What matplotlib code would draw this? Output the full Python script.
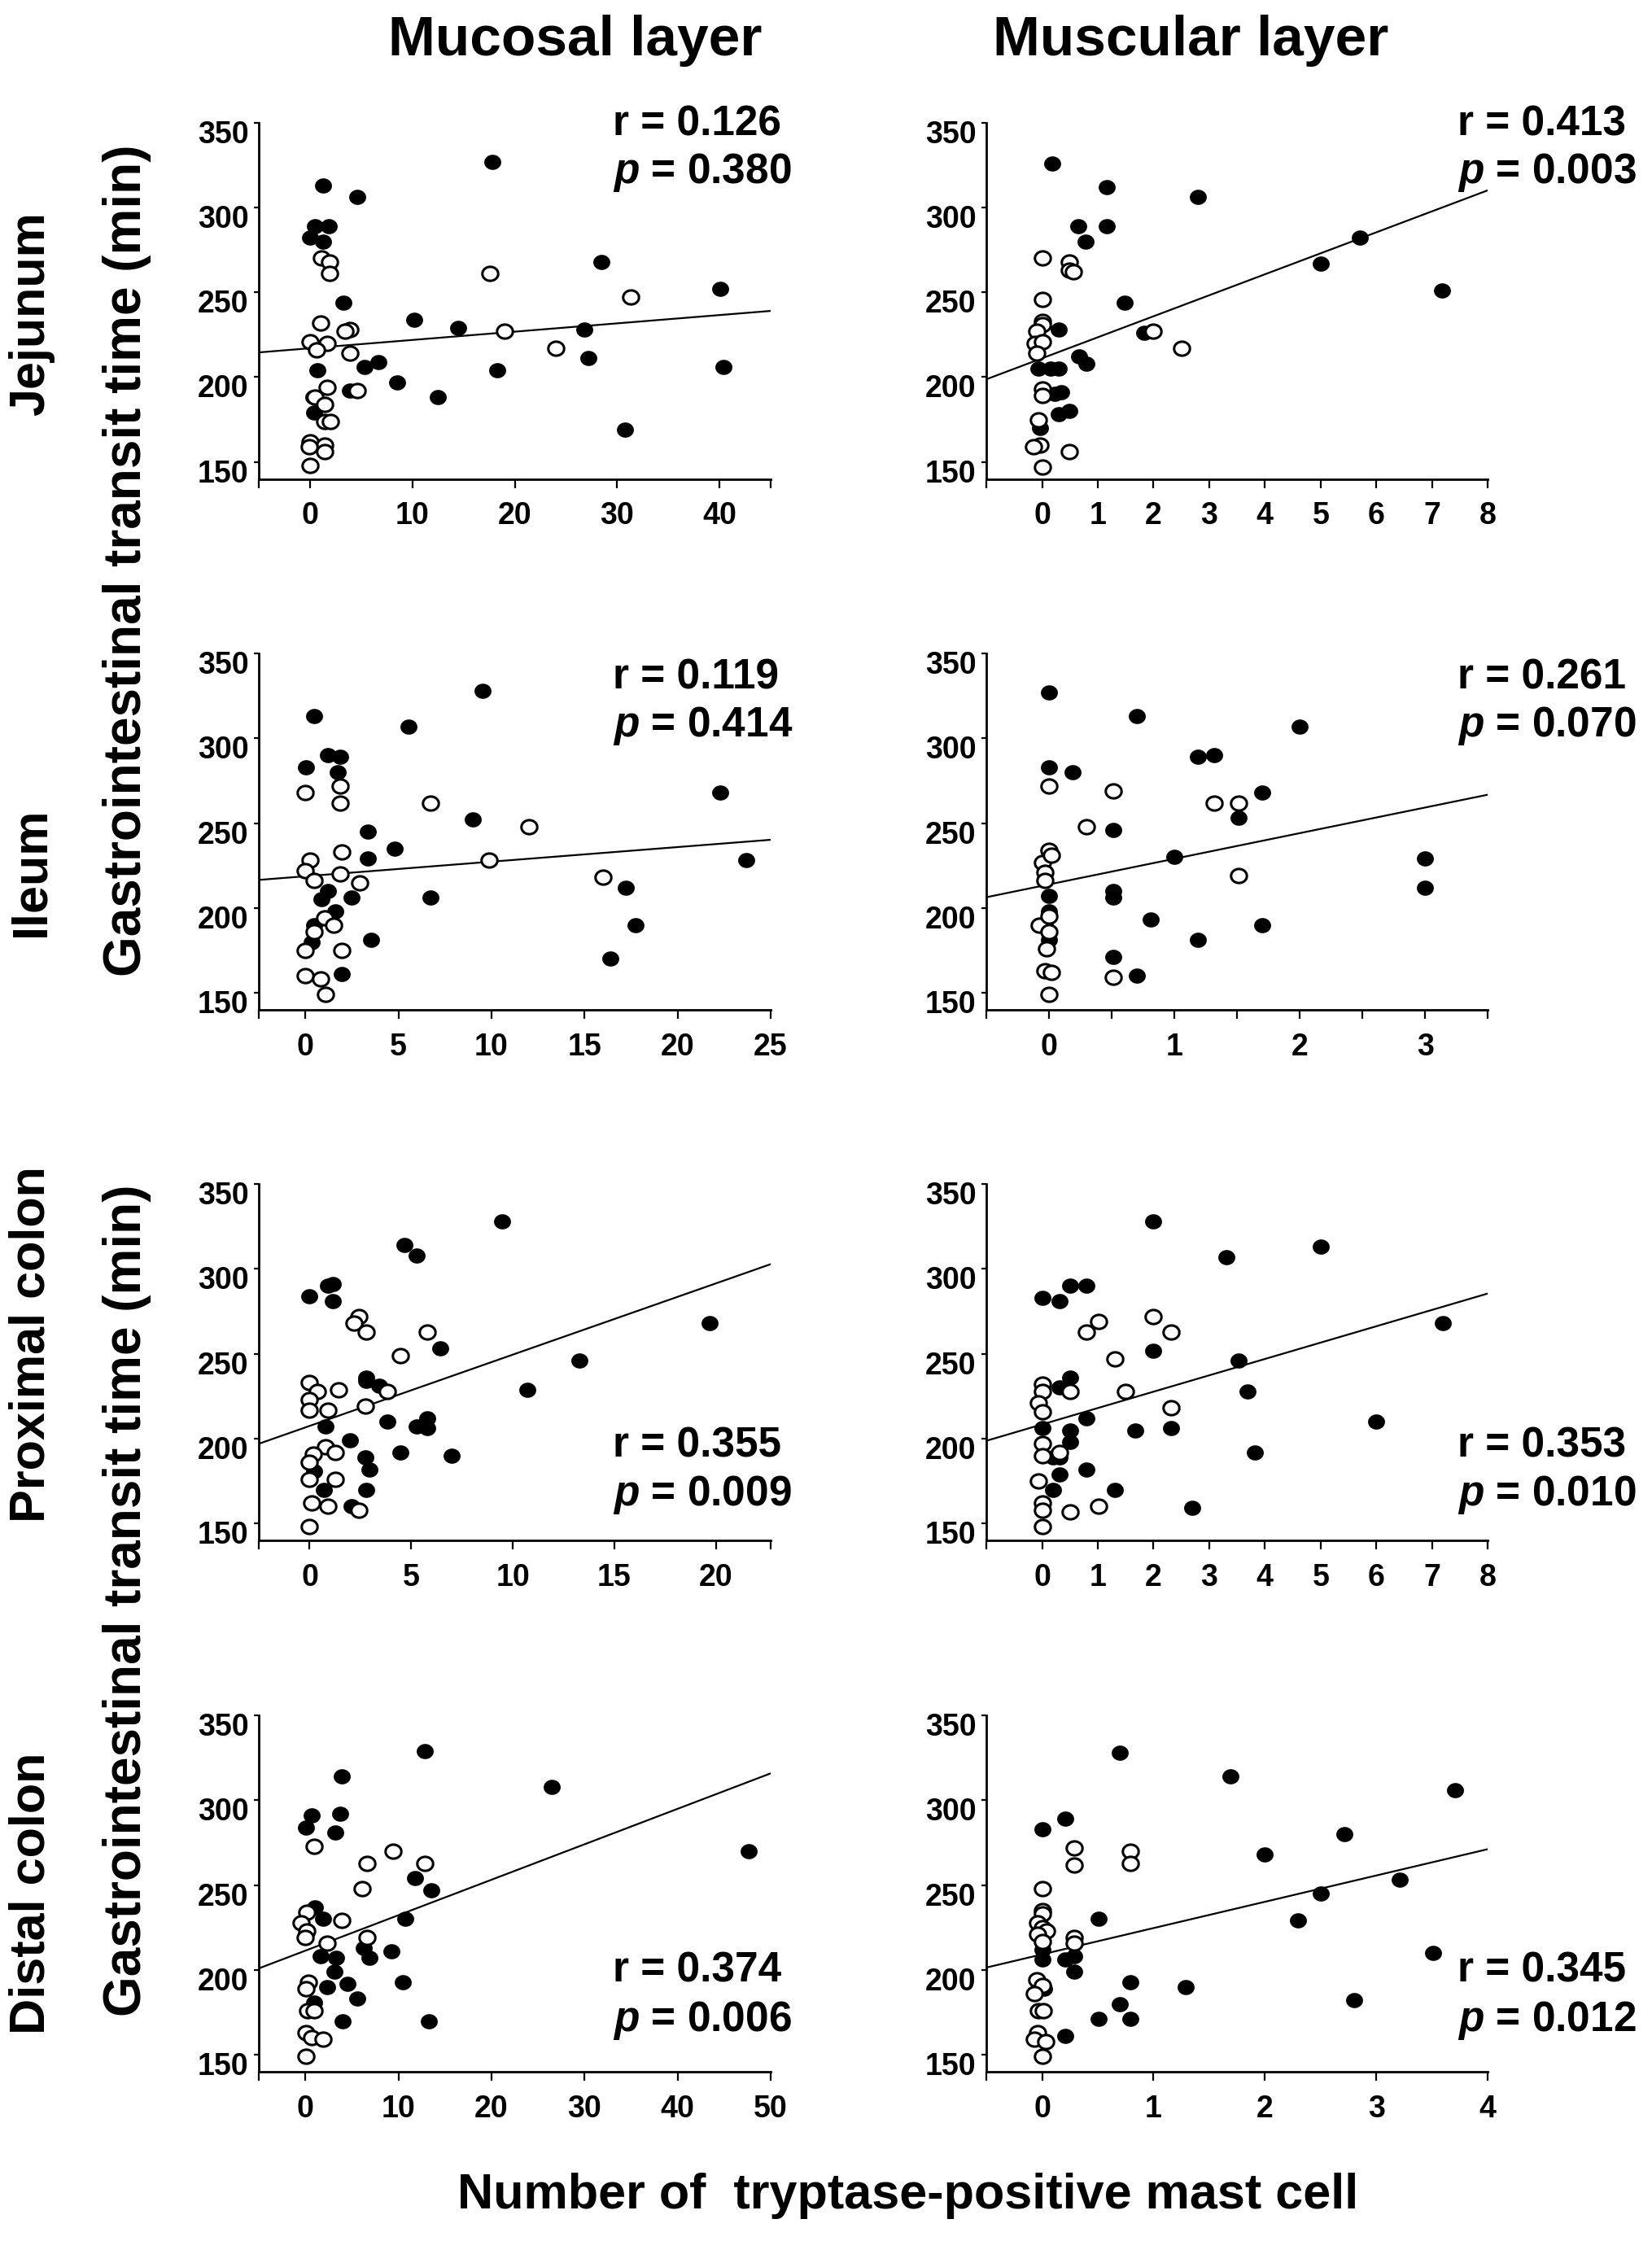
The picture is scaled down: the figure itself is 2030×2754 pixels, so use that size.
import numpy as np
import matplotlib
matplotlib.use('Agg')
import matplotlib.pyplot as plt
from matplotlib.transforms import ScaledTranslation

plt.rcParams['font.family'] = ['Liberation Sans', 'DejaVu Sans']
plt.rcParams['font.weight'] = 'bold'
plt.rcParams['mathtext.fontset'] = 'custom'
plt.rcParams['mathtext.it'] = 'Liberation Sans:italic:bold'
plt.rcParams['mathtext.rm'] = 'Liberation Sans:bold'

# ---- data (x = mast cell count, y = transit time, min) ----
# Jejunum, mucosal layer
jej_muc_fx = [17.8, 1.3, 4.6, 0.5, 1.8, 0.0, 1.3, 28.5, 40.1, 3.3, 10.2, 14.5, 26.8, 27.2, 6.7, 5.3, 0.7, 18.3, 40.4, 8.5, 12.5, 3.9, 0.3, 0.4, 30.8]
jej_muc_fy = [327, 313, 306, 289, 289, 282, 280, 268, 252, 244, 234, 229, 228, 211, 209, 206, 204, 204, 206, 197, 188, 192, 188, 179, 169]
jej_muc_ox = [1.1, 1.9, 1.9, 17.6, 31.3, 1.0, 3.9, 3.4, 19.0, 0.0, 1.7, 0.6, 3.9, 24.0, 1.7, 4.6, 0.5, 1.4, 1.4, 2.0, 0.0, 1.4, 1.4, 0.0, -0.1]
jej_muc_oy = [270, 268, 261, 261, 247, 232, 228, 227, 227, 221, 220, 216, 214, 217, 194, 192, 188, 184, 174, 174, 162, 160, 156, 148, 159]

# Jejunum, muscular layer
jej_mus_fx = [0.18, 1.16, 2.8, 0.65, 1.16, 0.78, 5.7, 5.0, 7.18, 1.48, 0.3, 1.83, 0.67, 0.79, -0.07, 0.15, 0.3, 0.22, 0.34, 0.3, 0.49, -0.04]
jej_mus_fy = [326, 312, 306, 289, 289, 280, 282, 267, 251, 244, 228, 226, 212, 208, 205, 205, 205, 190, 191, 178, 180, 170]
jej_mus_ox = [0.0, 0.49, 0.49, 0.56, 0.0, 0.0, 0.0, -0.09, -0.13, 0.0, -0.09, 2.0, 2.51, 0.0, 0.0, -0.07, -0.04, -0.15, 0.49, 0.0]
jej_mus_oy = [270, 268, 263, 262, 246, 233, 231, 227, 220, 221, 214, 227, 217, 193, 189, 175, 160, 159, 156, 147]

# Ileum, mucosal layer
ile_muc_fx = [9.5, 0.47, 5.55, 1.2, 1.87, 0.04, 1.76, 22.3, 9.0, 3.36, 4.78, 3.36, 23.7, 17.2, 1.23, 0.85, 2.48, 6.74, 1.6, 17.75, 0.47, 0.32, 3.54, 16.4, 1.97]
ile_muc_fy = [328, 313, 307, 290, 289, 283, 280, 268, 252, 245, 235, 229, 228, 212, 210, 205, 206, 206, 198, 190, 190, 180, 181, 170, 161]
ile_muc_ox = [0.0, 1.87, 1.87, 6.74, 12.0, 0.25, 1.97, 9.85, 0.0, 0.47, 1.87, 2.9, 16.0, 1.06, 1.53, 0.49, 0.0, 1.97, 0.0, 0.8, 1.1]
ile_muc_oy = [268, 272, 262, 262, 248, 228, 233, 228, 222, 216, 220, 215, 218, 194, 190, 186, 175, 175, 160, 158, 149]

# Ileum, muscular layer
ile_mus_fx = [0.0, 0.70, 2.0, 0.0, 0.19, 1.19, 1.32, 1.7, 1.51, 0.51, 1.0, 3.0, 3.0, 0.51, 0.51, 0.0, 0.0, -0.03, 0.81, 1.7, 0.0, 1.19, 0.51, 0.7]
ile_mus_fy = [327, 313, 307, 283, 280, 289, 290, 268, 253, 246, 230, 229, 212, 210, 206, 207, 198, 190, 193, 190, 181, 181, 171, 160]
ile_mus_ox = [0.0, 0.51, 0.3, 1.32, 1.51, 0.0, -0.05, 0.02, -0.03, -0.03, 1.51, -0.08, 0.0, 0.0, -0.02, -0.03, 0.02, 0.51, 0.0]
ile_mus_oy = [272, 269, 248, 262, 262, 234, 227, 231, 221, 216, 219, 190, 195, 186, 176, 163, 162, 159, 149]

# Proximal colon, mucosal layer
pro_muc_fx = [9.46, 4.67, 5.29, 1.16, 0.89, 0.0, 1.16, 6.45, 19.7, 13.3, 10.7, 2.77, 2.77, 3.41, 3.84, 5.29, 5.78, 5.78, 0.8, 2.0, 4.46, 6.98, 2.73, 2.93, 0.21, 0.7, 2.77, 2.05]
pro_muc_fy = [328, 314, 308, 291, 290, 284, 281, 253, 268, 246, 229, 236, 234, 231, 210, 207, 212, 206, 207, 199, 192, 190, 189, 182, 181, 170, 170, 160]
pro_muc_ox = [2.44, 2.19, 2.77, 5.78, 4.46, 0.0, 0.39, 1.41, 3.84, 0.0, 0.0, 0.89, 2.73, 0.8, 0.19, 1.28, 0.0, 0.0, 1.28, 0.12, 0.89, 2.44, 0.0]
pro_muc_oy = [272, 268, 263, 263, 249, 233, 228, 229, 228, 223, 217, 217, 219, 195, 191, 192, 186, 176, 176, 162, 160, 158, 148]

# Proximal colon, muscular layer
pro_mus_fx = [2.0, 5.0, 3.31, 0.0, 0.32, 0.5, 0.8, 7.19, 2.0, 3.53, 0.5, 0.32, 3.69, 0.8, 6.0, 0.0, 0.5, 1.67, 2.31, 0.5, 3.82, 0.2, 0.32, 0.8, 0.32, 0.2, 1.3, 2.7]
pro_mus_fy = [328, 313, 307, 283, 281, 290, 290, 268, 252, 246, 236, 230, 228, 212, 210, 206, 205, 205, 206, 198, 192, 189, 189, 182, 179, 170, 170, 159]
pro_mus_ox = [2.0, 1.02, 0.8, 2.31, 1.31, 0.0, 0.0, 0.5, 1.49, -0.07, 0.0, 2.31, 0.0, 0.0, 0.32, -0.07, 0.0, 0.0, 1.02, 0.5, 0.0]
pro_mus_oy = [272, 269, 263, 263, 247, 232, 228, 228, 228, 221, 216, 218, 197, 190, 192, 175, 162, 158, 160, 157, 148]

# Distal colon, mucosal layer
dis_muc_fx = [12.85, 3.9, 26.5, 0.64, 3.74, 0.09, 3.2, 47.6, 11.8, 13.5, 1.06, 1.9, 10.7, 9.23, 6.26, 6.9, 1.6, 3.3, 3.1, 2.34, 4.55, 10.5, 5.6, 0.94, 3.96, 13.3]
dis_muc_fy = [329, 314, 308, 291, 292, 284, 281, 270, 254, 247, 237, 230, 230, 211, 213, 207, 208, 207, 199, 190, 192, 193, 183, 181, 170, 170]
dis_muc_ox = [0.94, 9.45, 6.6, 12.85, 6.1, 0.13, -0.43, 3.9, 0.13, 0.0, 6.6, 2.34, 0.34, 0.09, 0.2, 0.94, 0.09, 0.64, 1.9, 0.09]
dis_muc_oy = [273, 270, 263, 263, 248, 234, 228, 229, 223, 219, 219, 216, 193, 189, 176, 176, 163, 160, 159, 149]

# Distal colon, muscular layer
dis_mus_fx = [0.7, 1.69, 3.71, 0.21, 0.0, 2.71, 2.0, 3.21, 2.5, 0.51, 2.3, 3.51, 0.0, 0.0, 0.21, 0.29, 0.29, 0.79, 1.29, 0.02, 0.7, 2.8, 0.51, 0.79, 0.21]
dis_mus_fy = [328, 314, 306, 289, 283, 280, 268, 253, 245, 230, 229, 210, 212, 206, 206, 208, 199, 193, 190, 189, 180, 182, 171, 171, 161]
dis_mus_ox = [0.29, 0.29, 0.79, 0.79, 0.0, 0.0, 0.0, -0.04, 0.0, 0.04, -0.04, 0.0, 0.29, 0.29, -0.05, 0.0, -0.07, -0.03, 0.01, -0.04, -0.07, 0.03, 0.0]
dis_mus_oy = [272, 262, 270, 263, 248, 235, 233, 228, 225, 223, 221, 217, 219, 216, 194, 191, 186, 176, 176, 163, 159, 158, 149]

# regression lines as drawn (slope, intercept) and the printed statistics
fit_slope = [0.489, 12.37, 0.86, 15.1, 4.2, 9.64, 2.09, 15.5]
fit_icept = [217.0, 211.1, 218.7, 213.9, 207.5, 208.4, 211.4, 209.2]
r_text = ['0.126', '0.413', '0.119', '0.261', '0.355', '0.353', '0.374', '0.345']
p_text = ['0.380', '0.003', '0.414', '0.070', '0.009', '0.010', '0.006', '0.012']

# axis set-up per panel
x_limits = [(-5, 45), (-1, 8), (-2.5, 25), (-0.5, 3.5), (-2.5, 22.7), (-1, 8), (-5, 50), (-0.5, 4)]
x_labels = [[0, 10, 20, 30, 40], list(range(9)), [0, 5, 10, 15, 20, 25], [0, 1, 2, 3],
            [0, 5, 10, 15, 20], list(range(9)), [0, 10, 20, 30, 40, 50], [0, 1, 2, 3, 4]]
x_extra = [[-5, 45], [-1], [-2.5], [-0.5, 0.5, 1.5, 2.5, 3.5], [-2.5, 22.7], [-1], [-5], [-0.5]]
y_ticks = [150, 200, 250, 300, 350]

row_names = ['Jejunum', 'Ileum', 'Proximal colon', 'Distal colon']
col_names = ['Mucosal layer', 'Muscular layer']

panels = [
    (jej_muc_fx, jej_muc_fy, jej_muc_ox, jej_muc_oy),
    (jej_mus_fx, jej_mus_fy, jej_mus_ox, jej_mus_oy),
    (ile_muc_fx, ile_muc_fy, ile_muc_ox, ile_muc_oy),
    (ile_mus_fx, ile_mus_fy, ile_mus_ox, ile_mus_oy),
    (pro_muc_fx, pro_muc_fy, pro_muc_ox, pro_muc_oy),
    (pro_mus_fx, pro_mus_fy, pro_mus_ox, pro_mus_oy),
    (dis_muc_fx, dis_muc_fy, dis_muc_ox, dis_muc_oy),
    (dis_mus_fx, dis_mus_fy, dis_mus_ox, dis_mus_oy),
]

# slightly flattened dot, as in the scanned figure
t = np.linspace(0, 2 * np.pi, 64)
dot = list(zip(1.13 * np.cos(t), np.sin(t)))

fig = plt.figure(figsize=(20.31, 27.54), dpi=100)

col_x = [0.1566, 0.5968]
col_w = [0.3097, 0.3033]
row_y = [0.7863, 0.5494, 0.3126, 0.0755]
ax_h = 0.1590
# baselines of the r / p lines (figure fraction)
stat_x = [0.3707, 0.8818]
stat_r_y = [0.9397, 0.6928, 0.3500, 0.1155]
stat_p_y = [0.9183, 0.6714, 0.3283, 0.0937]

down = ScaledTranslation(0, -0.11, fig.dpi_scale_trans)

for k, (fx, fy, ox, oy) in enumerate(panels):
    row, col = divmod(k, 2)
    ax = fig.add_axes([col_x[col], row_y[row], col_w[col], ax_h])

    x0, x1 = x_limits[k]
    xs = np.array([x0, x1])
    ax.plot(xs, fit_icept[k] + fit_slope[k] * xs, color='black', lw=1.6, zorder=2)
    ax.plot(fx, fy, ls='none', marker=dot, ms=14, mfc='black', mec='black', mew=1, zorder=3)
    ax.plot(ox, oy, ls='none', marker=dot, ms=14, mfc='white', mec='black', mew=2.2, zorder=4)

    ax.set_xlim(x0, x1)
    ax.set_ylim(140, 350)
    for s in ['top', 'right']:
        ax.spines[s].set_visible(False)
    for s in ['left', 'bottom']:
        ax.spines[s].set_linewidth(2)

    ticks = sorted(set(x_labels[k]) | set(x_extra[k]))
    ax.set_xticks(ticks)
    ax.set_xticklabels([str(v) if v in x_labels[k] else '' for v in ticks])
    ax.set_yticks(y_ticks)
    ax.set_yticklabels([str(v) for v in y_ticks])
    ax.tick_params(axis='x', length=8, width=1.6, pad=12, labelsize=27)
    ax.tick_params(axis='y', length=4, width=1.6, pad=5, labelsize=27)
    for lbl in ax.get_yticklabels():
        lbl.set_transform(lbl.get_transform() + down)

    fig.text(stat_x[col], stat_r_y[row], 'r = ' + r_text[k], ha='left', va='baseline',
             fontsize=37, fontweight='bold')
    fig.text(stat_x[col], stat_p_y[row], '$p$ = ' + p_text[k], ha='left', va='baseline',
             fontsize=37, fontweight='bold')

fig.text(0.348, 0.982, col_names[0], ha='center', va='center', fontsize=50, fontweight='bold')
fig.text(0.7203, 0.982, col_names[1], ha='center', va='center', fontsize=50, fontweight='bold')

for name, yc in zip(row_names, [0.860, 0.611, 0.400, 0.155]):
    fig.text(0.019, yc, name, rotation=90, ha='center', va='center', fontsize=44, fontweight='bold')

for yc in [0.750, 0.286]:
    fig.text(0.077, yc, 'Gastrointestinal transit time (min)', rotation=90,
             ha='center', va='center', fontsize=46, fontweight='bold')

fig.text(0.5495, 0.020, 'Number of  tryptase-positive mast cell', ha='center', va='center',
         fontsize=44, fontweight='bold')

fig.savefig('out.png', dpi=100, facecolor='white')
